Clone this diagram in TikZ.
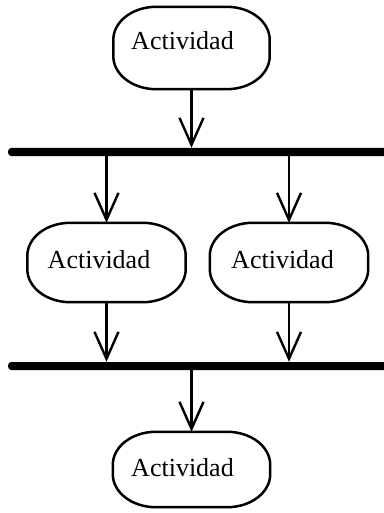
\documentclass[tikz,border=0pt]{standalone}
\usepackage{fontspec}
\setmainfont{Liberation Serif}
\usetikzlibrary{arrows.meta}
\newcommand\actoutline[1]{%
  \draw[outl] ([xshift=43pt]#1.north west) -- ([xshift=-43pt]#1.north east)
    arc[start angle=90,end angle=0,x radius=43pt,y radius=33pt]
    -- ([yshift=33pt]#1.south east)
    arc[start angle=0,end angle=-90,x radius=43pt,y radius=33pt]
    -- ([xshift=43pt]#1.south west)
    arc[start angle=270,end angle=180,x radius=43pt,y radius=33pt]
    -- ([yshift=-33pt]#1.north west)
    arc[start angle=180,end angle=90,x radius=43pt,y radius=33pt] -- cycle;}
\begin{document}
\begin{tikzpicture}[x=1pt,y=-1pt,
  act/.style={inner sep=0pt},
  outl/.style={draw, line width=2.5pt, fill=white},
  txt/.style={anchor=base, inner sep=0pt, font=\fontsize{26}{30}\selectfont},
  bar/.style={fill=black, inner sep=0pt, minimum height=8pt, rounded corners=3pt},
  arr/.style={line width=2.4pt, -{Straight Barb[length=27pt,width=24pt,line width=2.4pt]}}]
\useasboundingbox (0,0) rectangle (383,513);
\node[act, minimum width=156pt, minimum height=82pt] (top) at (191.5,48) {};
\node[bar, minimum width=380pt, anchor=west] (bar1) at (8,152) {};
\node[act, minimum width=158pt, minimum height=79pt] (ml) at (106.5,262.5) {};
\node[act, minimum width=158pt, minimum height=79pt] (mr) at (289,262.5) {};
\node[bar, minimum width=380pt, anchor=west] (bar2) at (8,366) {};
\node[act, minimum width=157pt, minimum height=75pt] (bot) at (191.5,469.5) {};
\actoutline{top}
\actoutline{ml}
\actoutline{mr}
\actoutline{bot}
\node[txt] (topt) at (182.5,50) {Actividad};
\node[txt] (mlt) at (99,268) {Actividad};
\node[txt] (mrt) at (282.5,268.5) {Actividad};
\node[txt] (bott) at (182.5,476) {Actividad};
\draw[arr] (top) -- (top |- bar1.north);
\draw[arr] (ml |- bar1.south) -- (ml);
\draw[arr] (mr |- bar1.south) -- (mr);
\draw[arr] (ml) -- (ml |- bar2.north);
\draw[arr] (mr) -- (mr |- bar2.north);
\draw[arr] (bot |- bar2.south) -- (bot);
\end{tikzpicture}
\end{document}
